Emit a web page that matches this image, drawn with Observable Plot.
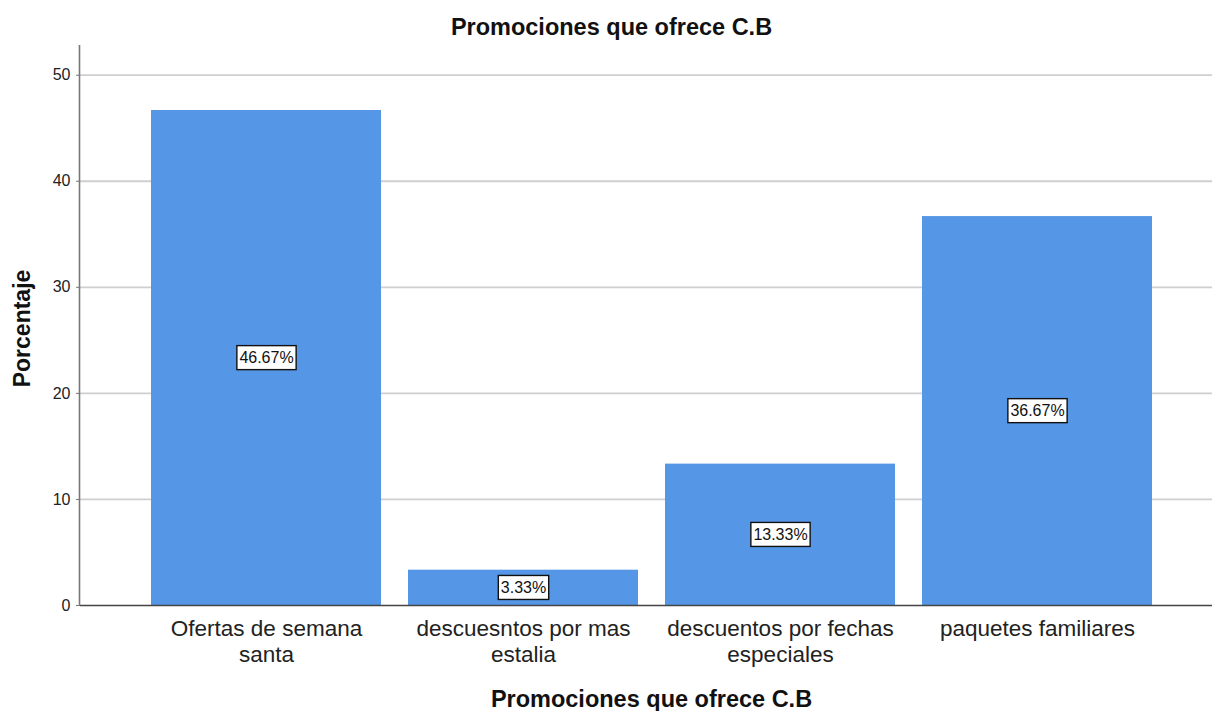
<!DOCTYPE html>
<html>
<head>
<meta charset="utf-8">
<script src="https://cdn.jsdelivr.net/npm/d3@7"></script>
<script src="https://cdn.jsdelivr.net/npm/@observablehq/plot@0.6"></script>
<style>
  body { margin: 0; background: #fff; }
  svg { font-family: "Liberation Sans", Arial, sans-serif; }
</style>
</head>
<body>
<div id="chart"></div>
<script>
const categories = ["Ofertas de semana santa", "descuesntos por mas estalia", "descuentos por fechas especiales", "paquetes familiares"];
const tickLabels = ["Ofertas de semana\nsanta", "descuesntos por mas\nestalia", "descuentos por fechas\nespeciales", "paquetes familiares"];
const values = [46.67, 3.33, 13.33, 36.67];
const yTicks = [0, 10, 20, 30, 40, 50];
const title = "Promociones que ofrece C.B";

const data = categories.map((c, i) => ({cat: c, value: values[i], label: values[i].toFixed(2) + "%"}));
const labelOf = new Map(categories.map((c, i) => [c, tickLabels[i]]));

const W = 1212, H = 711;
const plot = Plot.plot({
  width: W, height: H,
  marginTop: 45, marginBottom: 106, marginLeft: 80, marginRight: 0,
  style: {fontFamily: "'Liberation Sans', Arial, sans-serif", background: "#fff"},
  x: {domain: categories, range: [150, 1154], paddingInner: 0.1035, paddingOuter: 0, label: null},
  y: {domain: [0, 52.8], label: null},
  marks: [
    Plot.ruleY(yTicks.filter(d => d > 0), {stroke: "#cfcfcf", strokeWidth: 1.8}),
    Plot.barY(data, {x: "cat", y: "value", fill: "#5596e6"}),
    Plot.ruleY([0], {stroke: "#444", strokeWidth: 1.4}),
    Plot.axisY({ticks: yTicks, tickSize: 4, tickPadding: 6, fontSize: 16, label: null, color: "#222", stroke: "#777"}),
    Plot.axisX({tickSize: 0, tickPadding: 13, fontSize: 22.5, lineHeight: 1.12, label: null, color: "#222",
      tickFormat: d => labelOf.get(d)}),
    Plot.text(data, {x: "cat", y: d => d.value / 2, text: "label", fontSize: 16, fill: "#111", className: "vlabel"}),
    Plot.text([title], {frameAnchor: "top", lineAnchor: "middle", dy: -18, dx: -35, fontSize: 23.5, fontWeight: "bold", fill: "#111"}),
    Plot.text([title], {frameAnchor: "bottom", lineAnchor: "middle", dy: 94, dx: 5, fontSize: 23.5, fontWeight: "bold", fill: "#111"}),
    Plot.text(["Porcentaje"], {frameAnchor: "left", textAnchor: "middle", lineAnchor: "middle", dx: -58, dy: 3, rotate: -90, fontSize: 23, fontWeight: "bold", fill: "#111"})
  ]
});
document.getElementById("chart").appendChild(plot);

const svg = d3.select(plot);

// left axis line
const ys = plot.scale("y");
svg.append("line")
  .attr("x1", 79.5).attr("x2", 79.5)
  .attr("y1", 45).attr("y2", ys.apply(0))
  .attr("stroke", "#777").attr("stroke-width", 1.6);

// boxes behind value labels
svg.selectAll(".vlabel text").each(function() {
  const bb = this.getBBox();
  const tr = this.getAttribute("transform");
  const r = d3.select(this.parentNode).insert("rect", () => this)
    .attr("x", bb.x - 2.5).attr("y", bb.y - 3.5)
    .attr("width", bb.width + 5).attr("height", bb.height + 7)
    .attr("fill", "#fff").attr("stroke", "#111").attr("stroke-width", 1.4);
  if (tr) r.attr("transform", tr);
});
</script>
</body>
</html>
